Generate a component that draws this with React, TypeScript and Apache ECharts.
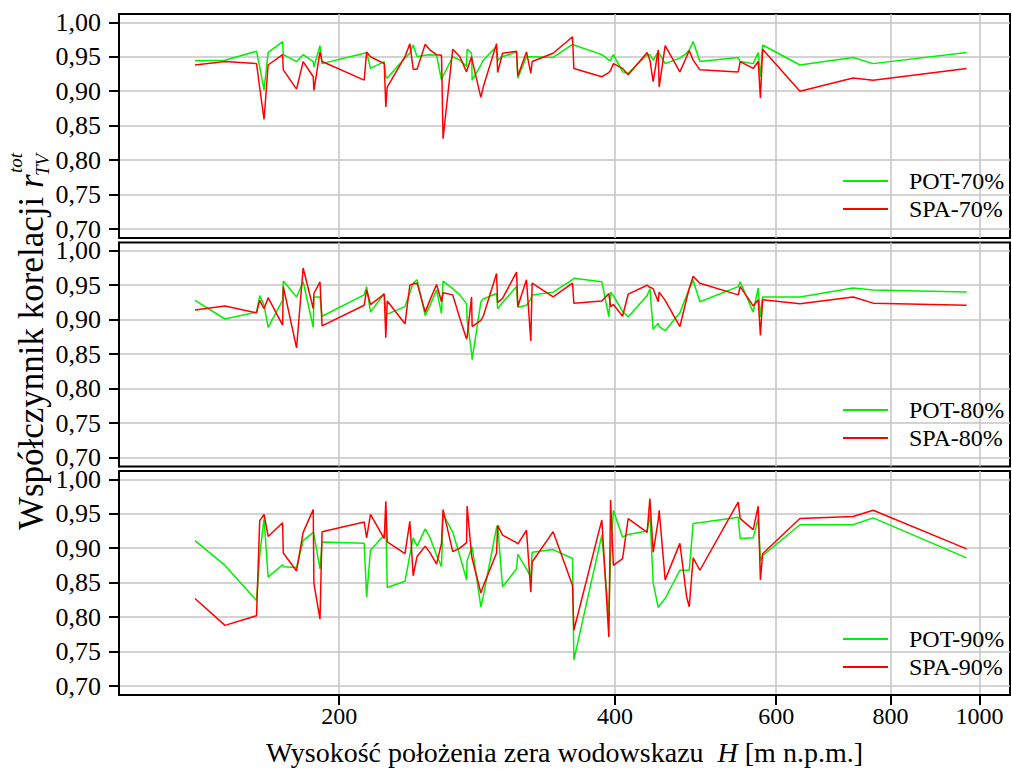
import React, { useEffect, useRef } from 'react';
import * as echarts from 'echarts';

// Station heights H [m n.p.m.] (shared by all series)
const heights = [
  139.2, 150.1, 162.5, 163.8, 165.6, 167.3, 173.5, 173.8, 179.7, 182.7,
  187.4, 187.7, 190.6, 191.6, 213.0, 214.3, 216.4, 224.0, 224.9, 225.7,
  236.0, 238.9, 240.9, 243.3, 248.3, 251.2, 255.5, 258.7, 259.7, 266.1,
  270.9, 275.5, 275.9, 279.0, 279.4, 285.6, 287.3, 297.1, 297.9, 301.6,
  312.4, 313.4, 320.3, 323.8, 324.9, 342.5, 359.6, 360.8, 387.1, 394.0,
  395.7, 398.5, 407.8, 413.6, 433.8, 436.8, 440.4, 446.0, 447.1, 453.9,
  471.0, 479.0, 482.2, 487.0, 495.3, 545.4, 548.1, 566.3, 573.5, 576.7,
  579.9, 636.9, 728.0, 765.6, 968.4,
];

const pot70 = [
  0.944, 0.945, 0.958, 0.935, 0.902, 0.956, 0.972, 0.953, 0.943, 0.953,
  0.943, 0.935, 0.966, 0.940, 0.955, 0.956, 0.933, 0.943, 0.921, 0.919,
  0.948, 0.955, 0.967, 0.950, 0.952, 0.953, 0.952, 0.916, 0.922, 0.950,
  0.945, 0.936, 0.961, 0.955, 0.916, 0.938, 0.945, 0.965, 0.945, 0.950,
  0.957, 0.919, 0.950, 0.950, 0.950, 0.949, 0.968, 0.967, 0.953, 0.945,
  0.945, 0.953, 0.928, 0.926, 0.953, 0.953, 0.945, 0.957, 0.955, 0.940,
  0.948, 0.955, 0.960, 0.972, 0.943, 0.949, 0.943, 0.940, 0.956, 0.921,
  0.967, 0.938, 0.949, 0.940, 0.956,
];
const spa70 = [
  0.938, 0.943, 0.940, 0.905, 0.859, 0.938, 0.953, 0.931, 0.903, 0.943,
  0.921, 0.901, 0.957, 0.943, 0.916, 0.957, 0.950, 0.940, 0.877, 0.906,
  0.950, 0.969, 0.932, 0.932, 0.968, 0.960, 0.953, 0.952, 0.831, 0.961,
  0.950, 0.928, 0.931, 0.950, 0.945, 0.891, 0.906, 0.969, 0.927, 0.955,
  0.958, 0.922, 0.957, 0.926, 0.943, 0.955, 0.979, 0.933, 0.921, 0.927,
  0.930, 0.940, 0.933, 0.924, 0.956, 0.945, 0.914, 0.960, 0.906, 0.966,
  0.928, 0.950, 0.959, 0.945, 0.931, 0.928, 0.943, 0.933, 0.943, 0.890,
  0.961, 0.900, 0.919, 0.916, 0.933,
];
const pot80 = [
  0.928, 0.901, 0.911, 0.935, 0.921, 0.889, 0.928, 0.956, 0.933, 0.955,
  0.889, 0.933, 0.933, 0.905, 0.936, 0.948, 0.911, 0.938, 0.909, 0.908,
  0.919, 0.939, 0.953, 0.958, 0.906, 0.920, 0.943, 0.909, 0.956, 0.945,
  0.936, 0.923, 0.900, 0.852, 0.842, 0.926, 0.930, 0.938, 0.916, 0.925,
  0.948, 0.918, 0.921, 0.930, 0.936, 0.940, 0.958, 0.960, 0.955, 0.904,
  0.940, 0.935, 0.912, 0.904, 0.935, 0.945, 0.886, 0.895, 0.890, 0.884,
  0.910, 0.935, 0.945, 0.957, 0.926, 0.948, 0.955, 0.911, 0.946, 0.904,
  0.933, 0.933, 0.946, 0.943, 0.940,
];
const spa80 = [
  0.914, 0.920, 0.910, 0.928, 0.916, 0.932, 0.892, 0.948, 0.859, 0.975,
  0.916, 0.938, 0.955, 0.891, 0.921, 0.943, 0.922, 0.937, 0.874, 0.927,
  0.894, 0.950, 0.952, 0.953, 0.911, 0.928, 0.951, 0.926, 0.939, 0.936,
  0.902, 0.872, 0.875, 0.933, 0.890, 0.899, 0.905, 0.967, 0.925, 0.931,
  0.969, 0.919, 0.958, 0.869, 0.953, 0.933, 0.953, 0.924, 0.927, 0.938,
  0.919, 0.922, 0.905, 0.937, 0.950, 0.947, 0.945, 0.926, 0.940, 0.928,
  0.890, 0.930, 0.945, 0.963, 0.953, 0.936, 0.948, 0.920, 0.929, 0.877,
  0.929, 0.923, 0.933, 0.924, 0.921,
];
const pot90 = [
  0.911, 0.875, 0.824, 0.890, 0.943, 0.858, 0.876, 0.873, 0.872, 0.911,
  0.923, 0.920, 0.870, 0.909, 0.907, 0.829, 0.897, 0.919, 0.940, 0.843,
  0.852, 0.890, 0.915, 0.903, 0.928, 0.916, 0.890, 0.873, 0.950, 0.923,
  0.889, 0.854, 0.882, 0.900, 0.902, 0.815, 0.830, 0.930, 0.933, 0.844,
  0.870, 0.891, 0.870, 0.858, 0.894, 0.898, 0.885, 0.738, 0.919, 0.800,
  0.890, 0.955, 0.916, 0.920, 0.925, 0.949, 0.850, 0.814, 0.816, 0.827,
  0.868, 0.868, 0.868, 0.936, 0.937, 0.945, 0.914, 0.915, 0.943, 0.882,
  0.889, 0.934, 0.934, 0.944, 0.886,
];
const spa90 = [
  0.827, 0.788, 0.802, 0.940, 0.949, 0.917, 0.937, 0.893, 0.867, 0.923,
  0.956, 0.849, 0.797, 0.924, 0.938, 0.915, 0.949, 0.914, 0.968, 0.909,
  0.892, 0.939, 0.860, 0.888, 0.903, 0.894, 0.877, 0.907, 0.956, 0.895,
  0.900, 0.908, 0.961, 0.890, 0.885, 0.835, 0.845, 0.893, 0.933, 0.919,
  0.908, 0.906, 0.926, 0.836, 0.880, 0.924, 0.846, 0.781, 0.941, 0.771,
  0.970, 0.875, 0.885, 0.943, 0.923, 0.972, 0.894, 0.940, 0.955, 0.854,
  0.907, 0.830, 0.815, 0.886, 0.868, 0.967, 0.943, 0.927, 0.961, 0.854,
  0.892, 0.943, 0.946, 0.955, 0.899,
];

const xTicks = [200, 400, 600, 800, 1000];
const yTicks = [0.7, 0.75, 0.8, 0.85, 0.9, 0.95, 1.0];
const panelSuffixes = ['70%', '80%', '90%'];
const potSeries = [pot70, pot80, pot90];
const spaSeries = [spa70, spa80, spa90];

const FONT = "'Liberation Serif', 'Times New Roman', serif";
const GRID_TOPS = [14, 242.5, 471];
const GRID_H = 224;
const LEGEND_TOPS = [164, 393, 622];

export default function App() {
  const ref = useRef<HTMLDivElement>(null);

  useEffect(() => {
    if (!ref.current) return;
    const chart = echarts.init(ref.current, undefined, { renderer: 'svg' });

    const grids = GRID_TOPS.map((top) => ({
      left: 119,
      right: 2,
      top,
      height: GRID_H,
      show: true,
      borderColor: '#000',
      borderWidth: 2,
      backgroundColor: 'transparent',
    }));

    const xAxes = GRID_TOPS.map((_, i) => ({
      type: 'log',
      gridIndex: i,
      min: 115,
      max: 1080,
      logBase: 10,
      axisLine: { show: i === 2, lineStyle: { color: '#000', width: 2 } },
      axisTick: {
        show: i === 2,
        customValues: xTicks,
        length: 10,
        lineStyle: { color: '#000', width: 2 },
      },
      axisLabel: {
        show: i === 2,
        customValues: xTicks,
        margin: 9,
        fontFamily: FONT,
        fontSize: 24,
        color: '#000',
        formatter: (v: number) => String(Math.round(v)),
      },
      splitLine: { show: true, lineStyle: { color: '#c4c4c4', width: 1.5 } },
      minorSplitLine: { show: false },
      name: i === 2 ? 'Wysokość położenia zera wodowskazu  {i|H} [m n.p.m.]' : '',
      nameLocation: 'middle',
      nameGap: 43,
      nameTextStyle: {
        fontFamily: FONT,
        fontSize: 28,
        color: '#000',
        rich: { i: { fontFamily: FONT, fontSize: 28, fontStyle: 'italic', color: '#000' } },
      },
    }));

    const yAxes = GRID_TOPS.map((_, i) => ({
      type: 'value',
      gridIndex: i,
      min: 0.687,
      max: 1.012,
      axisLine: { show: true, lineStyle: { color: '#000', width: 2 } },
      axisTick: {
        show: true,
        customValues: yTicks,
        length: 10,
        lineStyle: { color: '#000', width: 2 },
      },
      axisLabel: {
        customValues: yTicks,
        margin: 18,
        fontFamily: FONT,
        fontSize: 26,
        lineHeight: 19,
        color: '#000',
        formatter: (v: number) => v.toFixed(2).replace('.', ','),
      },
      splitLine: { show: true, lineStyle: { color: '#c4c4c4', width: 1.5 } },
    }));

    const series: any[] = [];
    panelSuffixes.forEach((suf, i) => {
      series.push({
        name: `POT-${suf}`,
        type: 'line',
        xAxisIndex: i,
        yAxisIndex: i,
        data: heights.map((h, k) => [h, potSeries[i][k]]),
        showSymbol: false,
        symbol: 'none',
        color: '#00f000',
        lineStyle: { color: '#00f000', width: 1.5 },
        z: 3,
      });
      series.push({
        name: `SPA-${suf}`,
        type: 'line',
        xAxisIndex: i,
        yAxisIndex: i,
        data: heights.map((h, k) => [h, spaSeries[i][k]]),
        showSymbol: false,
        symbol: 'none',
        color: '#ff0000',
        lineStyle: { color: '#ff0000', width: 1.5 },
        z: 4,
      });
    });

    const legends = panelSuffixes.map((suf, i) => ({
      data: [`POT-${suf}`, `SPA-${suf}`],
      orient: 'vertical',
      left: 838,
      top: LEGEND_TOPS[i],
      icon: 'rect',
      itemWidth: 45,
      itemHeight: 2,
      itemGap: 4,
      selectedMode: false,
      formatter: (name: string) => `{s|}${name}`,
      textStyle: {
        fontFamily: FONT,
        fontSize: 24,
        color: '#000',
        lineHeight: 24,
        rich: { s: { width: 16 } },
      },
    }));

    chart.setOption({
      animation: false,
      backgroundColor: '#fff',
      grid: grids,
      xAxis: xAxes,
      yAxis: yAxes,
      legend: legends,
      series,
      graphic: [
        {
          type: 'group',
          x: 31,
          y: 352,
          rotation: Math.PI / 2,
          children: [
            {
              type: 'text',
              x: 164,
              y: 0,
              style: {
                text: 'Współczynnik korelacji ',
                font: `35px ${FONT}`,
                fill: '#000',
                align: 'right',
                verticalAlign: 'middle',
              },
            },
            {
              type: 'text',
              x: 164,
              y: 0,
              style: {
                text: 'r',
                font: `italic 35px ${FONT}`,
                fill: '#000',
                align: 'left',
                verticalAlign: 'middle',
              },
            },
            {
              type: 'text',
              x: 179,
              y: -16,
              style: {
                text: 'tot',
                font: `italic 19px ${FONT}`,
                fill: '#000',
                align: 'left',
                verticalAlign: 'middle',
              },
            },
            {
              type: 'text',
              x: 176,
              y: 11,
              style: {
                text: 'TV',
                font: `italic 19px ${FONT}`,
                fill: '#000',
                align: 'left',
                verticalAlign: 'middle',
              },
            },
          ],
        },
      ],
    });

    return () => chart.dispose();
  }, []);

  return (
    <div
      ref={ref}
      style={{ position: 'fixed', left: 0, top: 0, width: 1012, height: 769, background: '#fff' }}
    />
  );
}
